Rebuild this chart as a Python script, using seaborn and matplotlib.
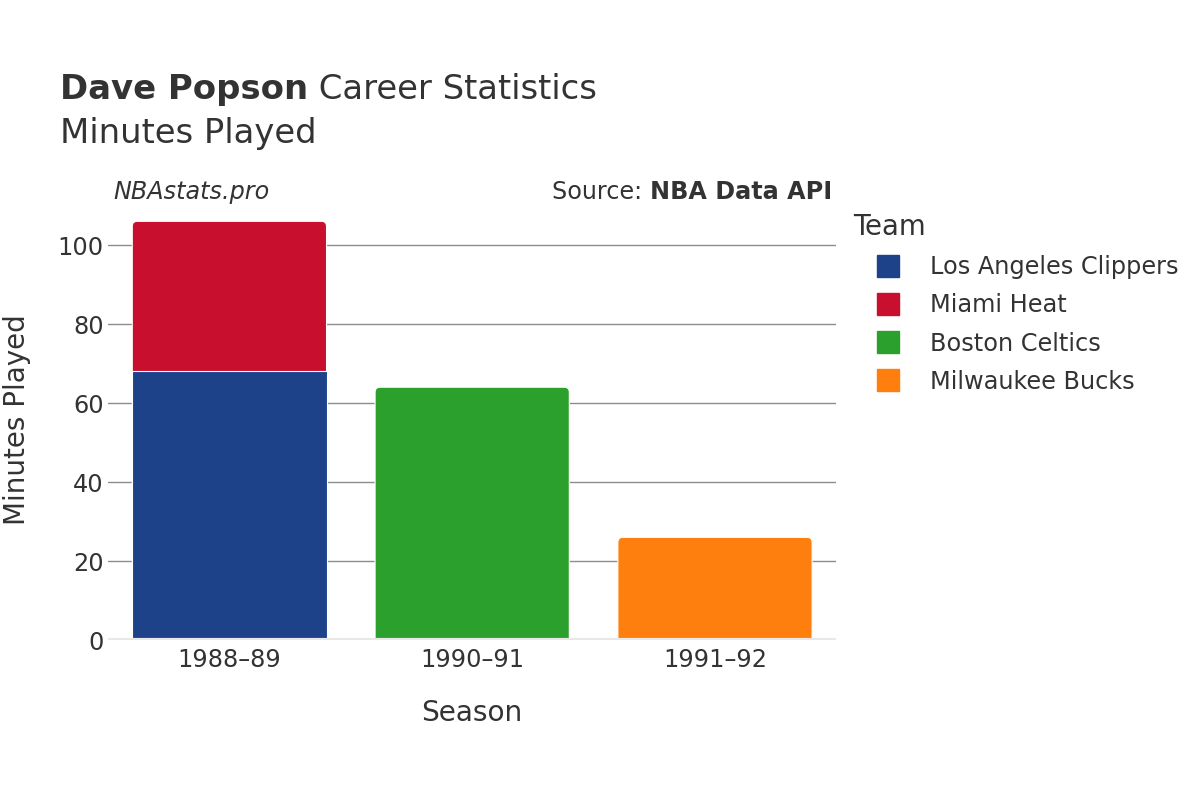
import matplotlib
matplotlib.use('Agg')
import pandas as pd
import matplotlib.pyplot as plt
import seaborn as sns
from matplotlib.patches import FancyBboxPatch
from matplotlib.lines import Line2D

seasons = ['1988–89', '1988–89', '1990–91', '1991–92']
teams = ['Los Angeles Clippers', 'Miami Heat', 'Boston Celtics', 'Milwaukee Bucks']
minutes = [68, 38, 64, 26]
team_colors = ['#1d428a', '#c8102e', '#2ca02c', '#ff7f0e']
season_order = ['1988–89', '1990–91', '1991–92']
y_ticks = [0, 20, 40, 60, 80, 100]

df = pd.DataFrame({'season': seasons, 'team': teams, 'minutes': minutes})
# cumulative top of each stacked segment
df['top'] = df.groupby('season')['minutes'].cumsum()
totals = df.groupby('season')['minutes'].sum()

sns.set_theme(style='white')
plt.rcParams['font.family'] = ['DejaVu Sans']
TXT = '#333333'

fig = plt.figure(figsize=(12, 8), dpi=100)
ax = fig.add_axes([0.09, 0.2, 0.607, 0.551])

# draw from highest segment to lowest so the lower ones sit in front
draw_order = df.sort_values('top', ascending=False)['team'].tolist()
palette = dict(zip(teams, team_colors))
sns.barplot(data=df, x='season', y='top', hue='team', order=season_order,
            hue_order=draw_order, palette=palette, dodge=False, width=0.8,
            errorbar=None, saturation=1, edgecolor='white', linewidth=0.8,
            legend=False, ax=ax, zorder=3)

ymax = 111.6
ax.set_ylim(0, ymax)
ax.set_xlim(-0.5, 2.5)

# round top corners of the topmost segment of each stack
px_x = 728 / 3.0
px_y = 441 / ymax
r = 5 / px_x
aspect = px_x / px_y
tot_vals = set(totals.values)
for p in list(ax.patches):
    h = p.get_height()
    if h in tot_vals:
        x0, w = p.get_x(), p.get_width()
        ext = 6 / px_y
        rp = FancyBboxPatch((x0, -ext), w, h + ext,
                            boxstyle=f'round,pad=0,rounding_size={r}',
                            mutation_aspect=aspect,
                            facecolor=p.get_facecolor(), edgecolor='white',
                            linewidth=0.8, zorder=2.9, clip_on=True)
        ax.add_patch(rp)
        p.remove()

ax.set_yticks(y_ticks)
ax.yaxis.grid(True, color='#8c8c8c', linewidth=1)
ax.set_axisbelow(True)
ax.axhline(0, color='#e8e8e8', linewidth=3, zorder=4)
for s in ax.spines.values():
    s.set_visible(False)
ax.tick_params(axis='both', length=0, labelsize=17.3, colors=TXT)
ax.tick_params(axis='y', pad=3)
ax.tick_params(axis='x', pad=6)
ax.set_xlabel('Season', fontsize=20.2, color=TXT)
ax.xaxis.set_label_coords(0.5, -0.134)
ax.set_ylabel('')
fig.text(17 / 1200, 1 - 420 / 800, 'Minutes Played', fontsize=20,
         color=TXT, rotation=90, ha='center', va='center')

# title in two pieces (bold name + regular rest)
t1 = fig.text(60 / 1200, 1 - 99 / 800, 'Dave Popson', fontsize=24.4,
              fontweight='bold', color=TXT, va='baseline')
fig.canvas.draw()
bb = t1.get_window_extent(renderer=fig.canvas.get_renderer())
fig.text(bb.x1 / 1200, 1 - 99 / 800, ' Career Statistics', fontsize=24.4,
         color=TXT, va='baseline')
fig.text(60 / 1200, 1 - 143 / 800, 'Minutes Played', fontsize=24.4,
         color=TXT, va='baseline')

fig.text(113 / 1200, 1 - 192 / 800, 'NBAstats.pro', fontsize=17.2,
         style='italic', color=TXT, va='center')
s2 = fig.text(832 / 1200, 1 - 192 / 800, 'NBA Data API', fontsize=17.2,
              fontweight='bold', color=TXT, va='center', ha='right')
fig.canvas.draw()
bb2 = s2.get_window_extent(renderer=fig.canvas.get_renderer())
fig.text(bb2.x0 / 1200, 1 - 192 / 800, 'Source: ', fontsize=17.2,
         color=TXT, va='center', ha='right')

handles = [Line2D([0], [0], marker='s', linestyle='none', markersize=16.5,
                  markerfacecolor=c, markeredgecolor=c) for c in team_colors]
leg = ax.legend(handles, teams, title='Team', loc='upper left',
                bbox_to_anchor=(853 / 1200, 1 - 213 / 800),
                bbox_transform=fig.transFigure, frameon=False,
                fontsize=17.3, title_fontsize=19.9, alignment='left',
                handlelength=2.95, handletextpad=0.25, labelspacing=0.59,
                borderpad=0, borderaxespad=0)
for t in leg.get_texts():
    t.set_color(TXT)
leg.get_title().set_color(TXT)

fig.savefig('out.png', dpi=100)
